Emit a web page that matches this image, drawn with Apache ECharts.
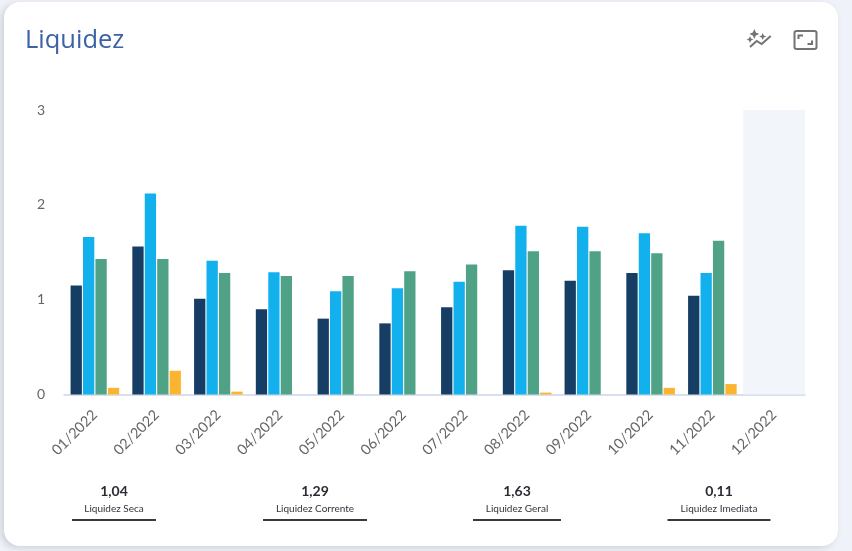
<!DOCTYPE html>
<html><head><meta charset="utf-8">
<style>
html,body{margin:0;padding:0;width:852px;height:551px;overflow:hidden;background:#eff2f8}
#card{position:absolute;left:4px;top:2px;width:834px;height:544px;background:#fff;border-radius:16px;box-shadow:-3px 2px 6px rgba(130,135,145,.3)}
#c{position:absolute;left:0;top:0;width:852px;height:551px}
</style>
<script src="https://cdn.jsdelivr.net/npm/echarts@6/dist/echarts.min.js"></script>
</head><body>
<div id="card"></div>
<div id="c"></div>
<script>
const categories=['01/2022','02/2022','03/2022','04/2022','05/2022','06/2022','07/2022','08/2022','09/2022','10/2022','11/2022','12/2022'];
const seca=[1.15,1.56,1.01,0.90,0.80,0.75,0.92,1.31,1.20,1.28,1.04,0];
const corrente=[1.66,2.12,1.41,1.29,1.09,1.12,1.19,1.78,1.77,1.70,1.28,0];
const geral=[1.43,1.43,1.28,1.25,1.25,1.30,1.37,1.51,1.51,1.49,1.62,0];
const imediata=[0.07,0.25,0.03,0,0,0,0,0.02,0,0.07,0.11,0];
const seriesNames=['Liquidez Seca','Liquidez Corrente','Liquidez Geral','Liquidez Imediata'];
const kpiValues=['1,04','1,29','1,63','0,11'];
const yTicks=[0,1,2,3];

const kpiX=[114,315,517,719], kpiW=[84,104,88,103];
const graphics=[{type:'text',x:25,y:40.5,style:{text:'Liquidez',align:'left',verticalAlign:'middle',font:'400 25.5px "Open Sans"',fill:'#3b62a5'}}];
kpiValues.forEach((v,i)=>{
  graphics.push({type:'text',x:kpiX[i],y:491,style:{text:v,align:'center',verticalAlign:'middle',font:'700 14px Lato',fill:'#2b2b33'}});
  graphics.push({type:'text',x:kpiX[i],y:509,style:{text:seriesNames[i],align:'center',verticalAlign:'middle',font:'400 10px Lato',fill:'#33333b'}});
  graphics.push({type:'rect',shape:{x:kpiX[i]-kpiW[i]/2,y:519,width:kpiW[i],height:2},style:{fill:'#3a3a3e'}});
});
const iconColor='#737373';
const star=(cx,cy,r)=>({type:'polygon',shape:{points:[[cx,cy-r],[cx+r*.3,cy-r*.3],[cx+r,cy],[cx+r*.3,cy+r*.3],[cx,cy+r],[cx-r*.3,cy+r*.3],[cx-r,cy],[cx-r*.3,cy-r*.3]]},style:{fill:iconColor}});
graphics.push(
  {type:'rect',shape:{x:794.5,y:31,width:22,height:18,r:2},style:{fill:'none',stroke:iconColor,lineWidth:2}},
  {type:'polyline',shape:{points:[[798.5,39],[798.5,35.5],[803,35.5]]},style:{fill:'none',stroke:iconColor,lineWidth:2}},
  {type:'polyline',shape:{points:[[812,40.5],[812,44],[807.5,44]]},style:{fill:'none',stroke:iconColor,lineWidth:2}},
  {type:'polyline',shape:{points:[[750,47],[756.7,41],[761.7,44],[770.7,36]]},style:{fill:'none',stroke:iconColor,lineWidth:2}},
  star(754.3,34,5),star(762.7,36.5,3.6),star(750,39.5,3.4)
);

const bar=(name,data,color,extra)=>Object.assign({name,type:'bar',data,barWidth:11.3,barGap:'10%',itemStyle:{color}},extra||{});
const chart=echarts.init(document.getElementById('c'),null,{renderer:'canvas'});
chart.setOption({
  animation:false,
  backgroundColor:'transparent',
  graphic:graphics,
  grid:{left:64,right:47,top:110,bottom:156.5,containLabel:false},
  xAxis:{type:'category',data:categories,boundaryGap:true,
    axisLine:{lineStyle:{color:'#ccd6eb',width:1.5}},axisTick:{show:false},
    axisLabel:{rotate:45,interval:0,margin:18,fontFamily:'Lato',fontSize:14.5,color:'#666666'}},
  yAxis:{type:'value',min:yTicks[0],max:yTicks[3],interval:1,splitLine:{show:false},axisLine:{show:false},axisTick:{show:false},
    axisLabel:{margin:19,fontFamily:'Lato',fontSize:14,color:'#666666'}},
  series:[
    bar(seriesNames[0],seca,'#163e64',{markArea:{silent:true,itemStyle:{color:'#f2f5fa'},label:{show:false},data:[[{xAxis:'12/2022',yAxis:0},{xAxis:'12/2022',yAxis:3}]]}}),
    bar(seriesNames[1],corrente,'#13b0ee'),
    bar(seriesNames[2],geral,'#50a286'),
    bar(seriesNames[3],imediata,'#fbb42f')
  ]
});
</script>
</body></html>
